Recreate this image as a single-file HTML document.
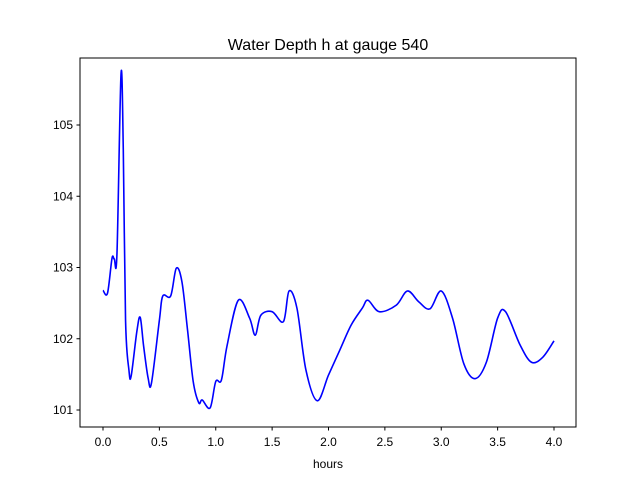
<!DOCTYPE html>
<html><head><meta charset="utf-8"><style>
body{margin:0;background:#fff;}
svg text{font-family:"Liberation Sans","DejaVu Sans",sans-serif;fill:#000;}
</style></head><body>
<svg width="640" height="480" xmlns="http://www.w3.org/2000/svg">
<rect width="640" height="480" fill="#fff"/>
<text x="328" y="50" font-size="16" text-anchor="middle">Water Depth h at gauge 540</text>
<g id="xt"></g>
<g id="yt"></g>
<path id="line" fill="none" stroke="#0000ff" stroke-width="1.6"/>
<rect x="80" y="58" width="496" height="369" fill="none" stroke="#000" stroke-width="1"/>
<text x="328" y="468" font-size="12" text-anchor="middle">hours</text>
</svg>
<script>
const hours=[0,0.04,0.08,0.1,0.124,0.16,0.18,0.2,0.23,0.25,0.3,0.33,0.36,0.4,0.43,0.5,0.53,0.6,0.65,0.7,0.75,0.8,0.85,0.88,0.95,1.0,1.05,1.1,1.2,1.3,1.35,1.4,1.5,1.6,1.65,1.72,1.8,1.9,2.0,2.1,2.2,2.3,2.35,2.45,2.6,2.7,2.8,2.9,3.0,3.1,3.2,3.3,3.4,3.5,3.57,3.7,3.8,3.9,4.0];
const depth=[102.68,102.64,103.13,103.12,103.2,105.72,104.65,102.26,101.56,101.48,102.1,102.3,101.9,101.45,101.38,102.26,102.6,102.6,102.99,102.8,102.12,101.4,101.1,101.14,101.03,101.4,101.42,101.9,102.54,102.29,102.05,102.33,102.38,102.24,102.67,102.43,101.56,101.13,101.49,101.84,102.19,102.43,102.54,102.38,102.47,102.67,102.52,102.42,102.67,102.29,101.65,101.44,101.67,102.29,102.38,101.91,101.67,101.74,101.97];
const xTicks=[0,0.5,1,1.5,2,2.5,3,3.5,4];
const yTicks=[101,102,103,104,105];
const X=h=>103+h*112.75, Y=v=>125+(105-v)*71.25;
const NS="http://www.w3.org/2000/svg";
const xt=document.getElementById('xt'), yt=document.getElementById('yt');
xTicks.forEach(t=>{
 const l=document.createElementNS(NS,'line');
 
 
 l.setAttribute('x1',X(t));l.setAttribute('x2',X(t));l.setAttribute('y1',427);l.setAttribute('y2',430.5);l.setAttribute('stroke','#000');
 xt.appendChild(l);
 const s=document.createElementNS(NS,'text');
 
 
 s.setAttribute('x',X(t));s.setAttribute('y',446);s.setAttribute('font-size','12');s.setAttribute('text-anchor','middle');
 s.textContent=t.toFixed(1);xt.appendChild(s);
});
yTicks.forEach(t=>{
 const l=document.createElementNS(NS,'line');
 
 
 l.setAttribute('x1',76.5);l.setAttribute('x2',80);l.setAttribute('y1',Y(t));l.setAttribute('y2',Y(t));l.setAttribute('stroke','#000');
 yt.appendChild(l);
 const s=document.createElementNS(NS,'text');
 
 
 s.setAttribute('x',73);s.setAttribute('y',Y(t)+4);s.setAttribute('font-size','12');s.setAttribute('text-anchor','end');
 s.textContent=t;yt.appendChild(s);
});
const P=hours.map((h,i)=>[X(h),Y(depth[i])]);
let d='M'+P[0][0]+','+P[0][1];
for(let i=0;i<P.length-1;i++){
 const p0=P[Math.max(0,i-1)],p1=P[i],p2=P[i+1],p3=P[Math.min(P.length-1,i+2)];
 const c1=[p1[0]+(p2[0]-p0[0])/6,p1[1]+(p2[1]-p0[1])/6];
 const c2=[p2[0]-(p3[0]-p1[0])/6,p2[1]-(p3[1]-p1[1])/6];
 d+=' C'+c1+' '+c2+' '+p2;
}
document.getElementById('line').setAttribute('d',d);
</script>
</body></html>
